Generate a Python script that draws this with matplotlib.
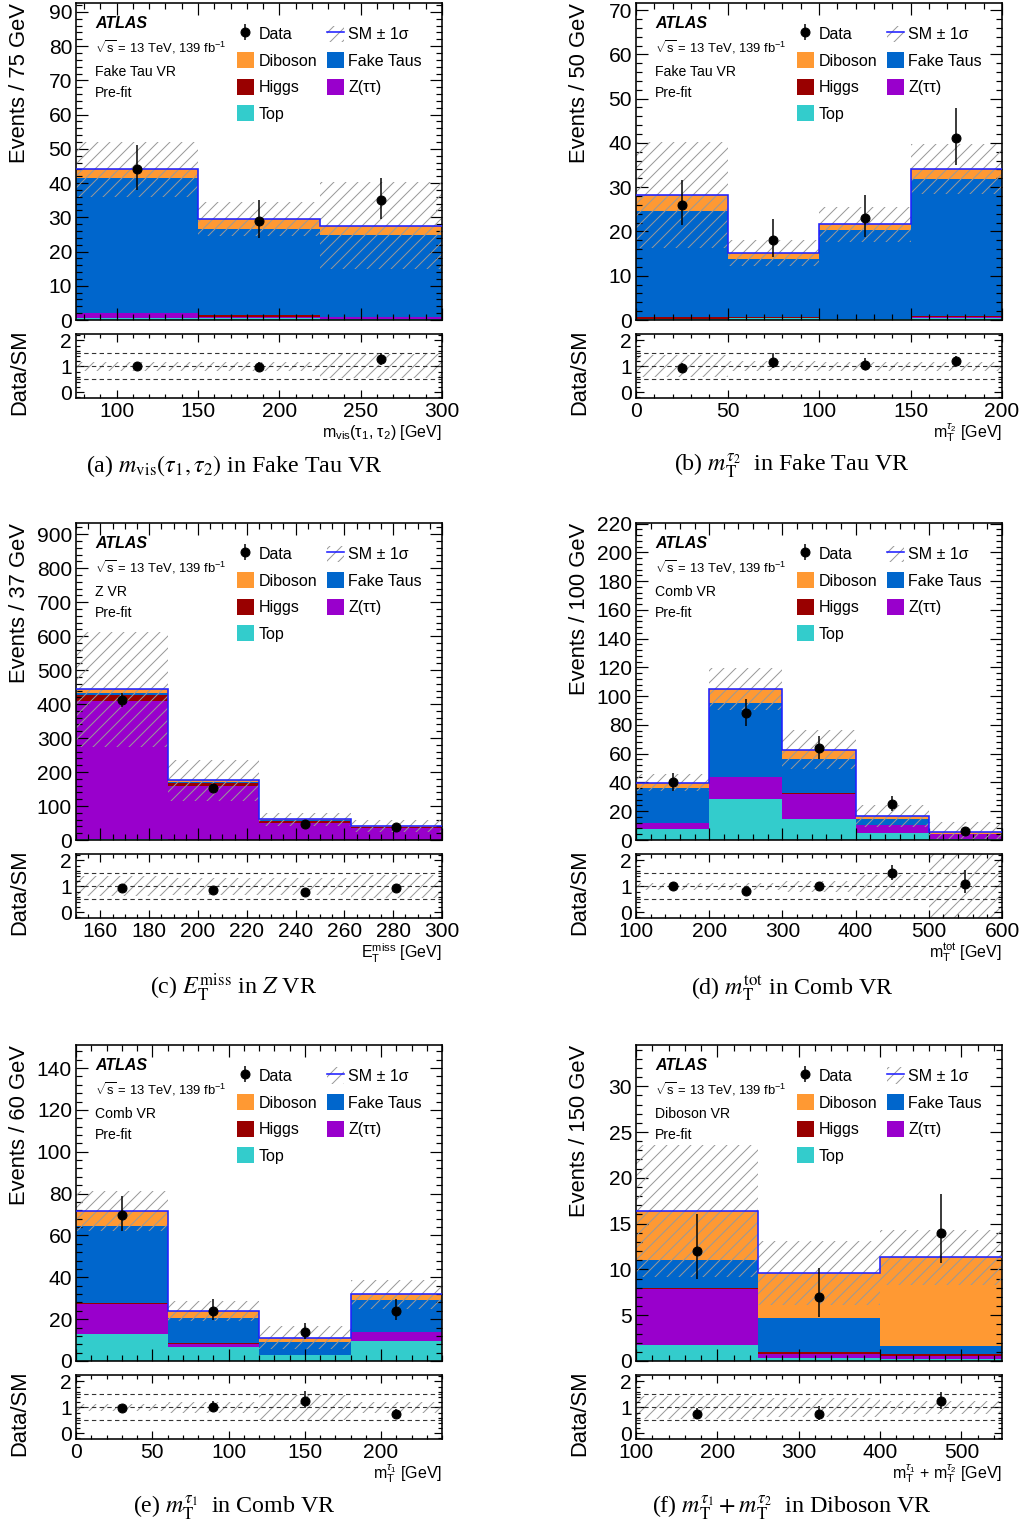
import numpy as np
import matplotlib
matplotlib.use("Agg")
import matplotlib.pyplot as plt
from matplotlib.patches import Patch
from matplotlib.lines import Line2D
from matplotlib.ticker import MultipleLocator

plt.rcParams['font.family'] = ['Liberation Sans', 'DejaVu Sans']
plt.rcParams['mathtext.fontset'] = 'custom'
plt.rcParams['mathtext.rm'] = 'Liberation Sans'
plt.rcParams['mathtext.it'] = 'Liberation Sans:italic'
plt.rcParams['mathtext.bf'] = 'Liberation Sans:bold'
plt.rcParams['hatch.linewidth'] = 1.0
plt.rcParams['hatch.color'] = '#999999'
plt.rcParams['axes.linewidth'] = 1.6

# ---- values (stack order: Top, Z, Higgs, Fake, Diboson) ----
# (a) m_vis(tau1, tau2), Fake Tau VR
a_edges = [75, 150, 225, 300]
a_top = [0.5, 0.5, 0.4]
a_ztt = [1.4, 0.4, 0.5]
a_higgs = [0.1, 0.5, 0.1]
a_fake = [39.5, 25.3, 23.7]
a_diboson = [2.5, 2.7, 2.9]
a_unc = [8.0, 5.0, 12.8]
a_data = [44, 29, 35]

# (b) mT(tau2), Fake Tau VR
b_edges = [0, 50, 100, 150, 200]
b_top = [0.2, 0.4, 0.2, 0.5]
b_ztt = [0.1, 0.1, 0.0, 0.1]
b_higgs = [0.3, 0.1, 0.0, 0.3]
b_fake = [24.1, 13.1, 20.2, 31.0]
b_diboson = [3.6, 1.5, 1.2, 2.2]
b_unc = [12.0, 2.9, 4.0, 5.7]
b_data = [26, 18, 23, 41]

# (c) MET, Z VR
c_edges = [150, 187.5, 225, 262.5, 300]
c_top = [2, 1, 0.5, 0.3]
c_ztt = [407, 157, 51, 34]
c_higgs = [19, 10, 4, 2.5]
c_fake = [5, 3, 2, 2]
c_diboson = [10, 5, 3, 2.2]
c_unc = [170, 60, 19, 18]
c_data = [412, 152, 47, 38]

# (d) mT_tot, Comb VR
d_edges = [100, 200, 300, 400, 500, 600]
d_top = [7.9, 28.2, 14.8, 4.6, 0.5]
d_ztt = [3.7, 15.5, 17.5, 5.6, 3.5]
d_higgs = [0.1, 0.2, 0.1, 0.1, 0.1]
d_fake = [24.7, 51.4, 24.0, 4.6, 0.2]
d_diboson = [3.5, 9.7, 6.5, 1.7, 1.2]
d_unc = [5.7, 14.5, 13.5, 7.5, 7.0]
d_data = [40, 88, 64, 25, 6]

# (e) mT(tau1), Comb VR
e_edges = [0, 60, 120, 180, 240]
e_top = [13.1, 6.7, 2.7, 9.4]
e_ztt = [14.3, 1.6, 0.1, 4.3]
e_higgs = [0.1, 0.1, 0.0, 0.1]
e_fake = [37.1, 12.3, 6.4, 15.2]
e_diboson = [7.1, 3.2, 1.9, 2.8]
e_unc = [9.5, 4.8, 5.5, 7.0]
e_data = [70, 24, 14, 24]

# (f) mT(tau1)+mT(tau2), Diboson VR
f_edges = [100, 250, 400, 550]
f_top = [1.7, 0.35, 0.2]
f_ztt = [6.2, 0.45, 0.3]
f_higgs = [0.1, 0.2, 0.3]
f_fake = [3.0, 3.7, 0.8]
f_diboson = [5.4, 4.9, 9.75]
f_unc = [7.2, 3.5, 3.0]
f_data = [12, 7, 14]

# ---- styling ----
colors = {'Top': '#33cccc', 'Z': '#9900cc', 'Higgs': '#990000',
          'Fake': '#0066cc', 'Diboson': '#ff9933'}
HATCH = '#999999'
W, H = 1024, 1528
fig = plt.figure(figsize=(W / 72, H / 72), dpi=72)


def rect(x0, y0, x1, y1):
    return [x0 / W, 1 - y1 / H, (x1 - x0) / W, (y1 - y0) / H]


def style_axes(ax, major_len, minor_len):
    ax.tick_params(which='both', direction='in', top=True, right=True,
                   labelsize=21, width=1.2)
    ax.tick_params(which='major', length=major_len, pad=4)
    ax.tick_params(which='minor', length=minor_len)


panels = [
    dict(edges=a_edges, comps=[a_top, a_ztt, a_higgs, a_fake, a_diboson], unc=a_unc, data=a_data,
         ymax=92.6, ymaj=10, ymin=2, xlim=(75, 300), xmaj=50, xmin=10,
         ylabel='Events / 75 GeV', region='Fake Tau VR',
         xlabel=r'm$_{\mathrm{vis}}$(τ$_{1}$, τ$_{2}$) [GeV]',
         caption=r'(a) $m_{\mathrm{vis}}(\tau_1, \tau_2)$ in Fake Tau VR', col=0, row=0),
    dict(edges=b_edges, comps=[b_top, b_ztt, b_higgs, b_fake, b_diboson], unc=b_unc, data=b_data,
         ymax=71.6, ymaj=10, ymin=2, xlim=(0, 200), xmaj=50, xmin=10,
         ylabel='Events / 50 GeV', region='Fake Tau VR',
         xlabel=r'm$_{\mathrm{T}}^{\tau_{2}}$ [GeV]',
         caption=r'(b) $m_{\mathrm{T}}^{\tau_2}$  in Fake Tau VR', col=1, row=0),
    dict(edges=c_edges, comps=[c_top, c_ztt, c_higgs, c_fake, c_diboson], unc=c_unc, data=c_data,
         ymax=933, ymaj=100, ymin=20, xlim=(150, 300), xmaj=20, xmin=5,
         ylabel='Events / 37 GeV', region='Z VR',
         xlabel=r'E$_{\mathrm{T}}^{\mathrm{miss}}$ [GeV]',
         caption=r'(c) $E_{\mathrm{T}}^{\mathrm{miss}}$ in $Z$ VR', col=0, row=1),
    dict(edges=d_edges, comps=[d_top, d_ztt, d_higgs, d_fake, d_diboson], unc=d_unc, data=d_data,
         ymax=220.4, ymaj=20, ymin=4, xlim=(100, 600), xmaj=100, xmin=20,
         ylabel='Events / 100 GeV', region='Comb VR',
         xlabel=r'm$_{\mathrm{T}}^{\mathrm{tot}}$ [GeV]',
         caption=r'(d) $m_{\mathrm{T}}^{\mathrm{tot}}$ in Comb VR', col=1, row=1),
    dict(edges=e_edges, comps=[e_top, e_ztt, e_higgs, e_fake, e_diboson], unc=e_unc, data=e_data,
         ymax=151, ymaj=20, ymin=4, xlim=(0, 240), xmaj=50, xmin=10,
         ylabel='Events / 60 GeV', region='Comb VR',
         xlabel=r'm$_{\mathrm{T}}^{\tau_{1}}$ [GeV]',
         caption=r'(e) $m_{\mathrm{T}}^{\tau_1}$  in Comb VR', col=0, row=2),
    dict(edges=f_edges, comps=[f_top, f_ztt, f_higgs, f_fake, f_diboson], unc=f_unc, data=f_data,
         ymax=34.5, ymaj=5, ymin=1, xlim=(100, 550), xmaj=100, xmin=20,
         ylabel='Events / 150 GeV', region='Diboson VR',
         xlabel=r'm$_{\mathrm{T}}^{\tau_{1}}$ + m$_{\mathrm{T}}^{\tau_{2}}$ [GeV]',
         caption=r'(f) $m_{\mathrm{T}}^{\tau_1} + m_{\mathrm{T}}^{\tau_2}$  in Diboson VR', col=1, row=2),
]

col_x = [76, 636]
col_cap = [234, 792]
rows = [dict(main=(3, 320), ratio=(334, 398), cap=466),
        dict(main=(523, 840), ratio=(854, 918), cap=988),
        dict(main=(1045, 1361), ratio=(1375, 1439), cap=1508)]
names = ['Top', 'Z', 'Higgs', 'Fake', 'Diboson']

for p in panels:
    x0 = col_x[p['col']]
    x1 = x0 + 366
    r = rows[p['row']]
    ax = fig.add_axes(rect(x0, r['main'][0], x1, r['main'][1]))
    rx = fig.add_axes(rect(x0, r['ratio'][0], x1, r['ratio'][1]), sharex=ax)
    hpx = r['main'][1] - r['main'][0]

    edges = np.array(p['edges'], dtype=float)
    widths = np.diff(edges)
    centers = edges[:-1] + widths / 2
    bottom = np.zeros(len(widths))
    bars = {}
    for name, vals in zip(names, p['comps']):
        vals = np.array(vals, dtype=float)
        bars[name] = ax.bar(edges[:-1], vals, width=widths, bottom=bottom, align='edge',
                            color=colors[name], linewidth=0, zorder=1)
        bottom = bottom + vals
    total = bottom
    unc = np.array(p['unc'], dtype=float)
    lo = np.clip(total - unc, 0, None)
    ax.bar(edges[:-1], total + unc - lo, width=widths, bottom=lo, align='edge',
           fill=False, hatch='//', edgecolor=HATCH, linewidth=0, zorder=2)
    ax.stairs(total, edges, baseline=None, color='#2020ff', linewidth=1.6, zorder=3)

    data = np.array(p['data'], dtype=float)
    up = 0.5 + np.sqrt(data + 0.25)
    dn = np.sqrt(data + 0.25) - 0.5
    eb = ax.errorbar(centers, data, yerr=[dn, up], fmt='o', color='black', ms=9,
                     elinewidth=1.5, capsize=0, zorder=4)

    ax.set_xlim(*p['xlim'])
    ax.set_ylim(0, p['ymax'])
    ax.yaxis.set_major_locator(MultipleLocator(p['ymaj']))
    ax.yaxis.set_minor_locator(MultipleLocator(p['ymin']))
    ax.xaxis.set_major_locator(MultipleLocator(p['xmaj']))
    ax.xaxis.set_minor_locator(MultipleLocator(p['xmin']))
    style_axes(ax, 12, 6)
    ax.tick_params(labelbottom=False)
    ax.set_ylabel(p['ylabel'], fontsize=22, loc='top')
    ax.yaxis.set_label_coords(-0.126, 1.0)

    def ty(off):
        return 1 - off / hpx

    ax.text(0.052, ty(21), 'ATLAS', transform=ax.transAxes, fontsize=16,
            fontweight='bold', fontstyle='italic', va='center')
    ax.text(0.052, ty(44), r'$\sqrt{\mathrm{s}}$ = 13 TeV, 139 fb$^{-1}$', transform=ax.transAxes,
            fontsize=13, va='center')
    ax.text(0.052, ty(69), p['region'], transform=ax.transAxes, fontsize=14, va='center')
    ax.text(0.052, ty(90), 'Pre-fit', transform=ax.transAxes, fontsize=14, va='center')

    sm_h = (Patch(facecolor='none', edgecolor=HATCH, hatch='//', linewidth=0),
            Line2D([], [], color='#2020ff', lw=1.6))
    handles = [eb, bars['Diboson'], bars['Higgs'], bars['Top'], sm_h, bars['Fake'], bars['Z']]
    labels = ['Data', 'Diboson', 'Higgs', 'Top', 'SM ± 1σ', 'Fake Taus', 'Z(ττ)']
    ax.legend(handles, labels, ncol=2, loc='upper left', frameon=False,
              bbox_to_anchor=(0.440, ty(22.5)), borderpad=0, borderaxespad=0,
              fontsize=16, handlelength=1.05, handleheight=1.2, handletextpad=0.3,
              labelspacing=0.62, columnspacing=0.6)

    # ratio panel
    rel = unc / total
    rx.bar(edges[:-1], 2 * rel, width=widths, bottom=1 - rel, align='edge',
           fill=False, hatch='//', edgecolor=HATCH, linewidth=0, zorder=1)
    for yv in (0.5, 1.0, 1.5):
        rx.axhline(yv, color='#333333', lw=1.1, ls=(0, (4, 3)), zorder=2)
    rx.errorbar(centers, data / total, yerr=[dn / total, up / total], fmt='o', color='black',
                ms=9, elinewidth=1.5, capsize=0, zorder=3)
    rx.set_ylim(-0.22, 2.25)
    rx.yaxis.set_major_locator(MultipleLocator(1))
    rx.yaxis.set_minor_locator(MultipleLocator(0.2))
    style_axes(rx, 8, 4)
    rx.set_ylabel('Data/SM', fontsize=22)
    rx.yaxis.set_label_coords(-0.126, 0.41)

    fig.text(x1 / W, 1 - (r['ratio'][1] + 35) / H, p['xlabel'], fontsize=16,
             ha='right', va='center')
    fig.text(col_cap[p['col']] / W, 1 - r['cap'] / H, p['caption'], fontsize=24,
             family=['Liberation Serif', 'DejaVu Serif'], math_fontfamily='stix',
             ha='center', va='center')

fig.savefig('out.png', dpi=72)
